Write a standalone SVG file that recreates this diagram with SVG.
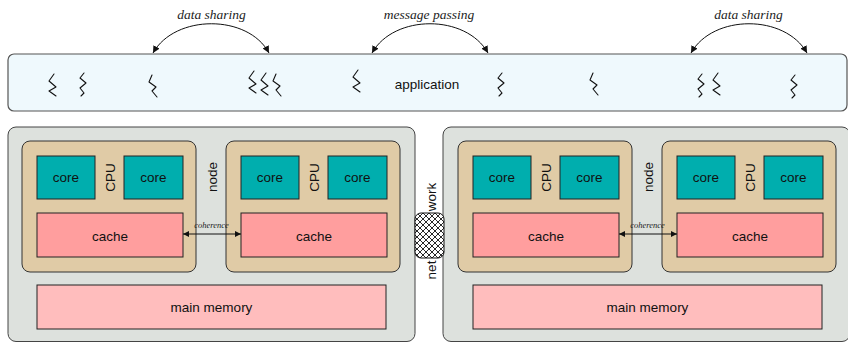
<svg xmlns="http://www.w3.org/2000/svg" width="848" height="343" viewBox="0 0 848 343">
<style>
.app{fill:#eff9fd;stroke:#555;stroke-width:1.2}
.sys{fill:#dde1dd;stroke:#444;stroke-width:1}
.cpu{fill:#e0cba6;stroke:#333;stroke-width:1}
.core{fill:#00aeae;stroke:#222;stroke-width:1}
.cache{fill:#ff9e9e;stroke:#222;stroke-width:1}
.mem{fill:#ffbdbd;stroke:#222;stroke-width:1}
.t{font-family:"Liberation Sans",Arial,sans-serif;font-size:13.5px;fill:#111;text-anchor:middle}
.it{font-family:"Liberation Serif","Times New Roman",serif;font-style:italic;fill:#222;text-anchor:middle}
.conn{fill:none;stroke:#111;stroke-width:1}
.thr{fill:none;stroke:#111;stroke-width:1.1;stroke-linejoin:round;stroke-linecap:round}
</style>
<defs>
<marker id="ah" viewBox="0 0 10 10" refX="10" refY="5" markerWidth="7" markerHeight="7" markerUnits="userSpaceOnUse" orient="auto-start-reverse">
<path d="M0,0 L10,5 L0,10 z" fill="#111"/>
</marker>
<marker id="ahs" viewBox="0 0 10 10" refX="10" refY="5" markerWidth="6" markerHeight="6" markerUnits="userSpaceOnUse" orient="auto-start-reverse">
<path d="M0,0 L10,5 L0,10 z" fill="#111"/>
</marker>
<pattern id="hatch" width="6" height="6" patternUnits="userSpaceOnUse">
<rect width="6" height="6" fill="#fff"/>
<path d="M0,0 L6,6 M6,0 L0,6" stroke="#111" stroke-width="0.9"/>
</pattern>
<path id="s1" class="thr" d="M2,0 L-3,7 L4,13 L-3,17 L4,22"/>
<path id="s2" class="thr" d="M1,0 L-3,5 L3,10 L-3,15 L1,20 L-2,23"/>
<path id="s3" class="thr" d="M-1,0 L-4,7 L3,12 L-1,16 L4,22"/>
</defs>

<g id="application">
<rect class="app" x="8" y="54" width="839" height="57" rx="6"/>
<text class="t" x="427" y="89">application</text>
<use href="#s1" x="52" y="74"/>
<use href="#s2" x="83" y="73"/>
<use href="#s3" x="153" y="75"/>
<use href="#s1" x="252" y="71"/>
<use href="#s1" x="264" y="73"/>
<use href="#s3" x="277" y="74"/>
<use href="#s1" x="356" y="70"/>
<use href="#s2" x="501" y="73"/>
<use href="#s3" x="594" y="73"/>
<use href="#s2" x="701" y="74"/>
<use href="#s1" x="716" y="73"/>
<use href="#s2" x="794" y="75"/>
</g>

<g id="system-left">
<rect class="sys" x="8" y="127" width="407" height="214.5" rx="8"/>
<text class="t" transform="translate(217,177) rotate(-90)">node</text>
<g id="cpu-left-1">
<rect class="cpu" x="22" y="141" width="174" height="131" rx="8"/>
<rect class="core" x="37" y="156" width="58" height="43"/>
<text class="t" x="66" y="182">core</text>
<rect class="core" x="124" y="156" width="59" height="43"/>
<text class="t" x="153.5" y="182">core</text>
<text class="t" transform="translate(114.5,177.5) rotate(-90)">CPU</text>
<rect class="cache" x="37" y="213" width="146" height="44"/>
<text class="t" x="110" y="241">cache</text>
</g>
<g id="cpu-left-2">
<rect class="cpu" x="226" y="141" width="174" height="131" rx="8"/>
<rect class="core" x="241" y="156" width="58" height="43"/>
<text class="t" x="270" y="182">core</text>
<rect class="core" x="328" y="156" width="59" height="43"/>
<text class="t" x="357.5" y="182">core</text>
<text class="t" transform="translate(318.5,177.5) rotate(-90)">CPU</text>
<rect class="cache" x="241" y="213" width="146" height="44"/>
<text class="t" x="314" y="241">cache</text>
</g>
<rect class="mem" x="37" y="285" width="349" height="44"/>
<text class="t" x="211.5" y="312">main memory</text>
</g>

<g id="system-right">
<rect class="sys" x="443" y="127" width="407" height="214.5" rx="8"/>
<text class="t" transform="translate(653,177) rotate(-90)">node</text>
<g id="cpu-right-1">
<rect class="cpu" x="458" y="141" width="174" height="131" rx="8"/>
<rect class="core" x="473" y="156" width="58" height="43"/>
<text class="t" x="502" y="182">core</text>
<rect class="core" x="560" y="156" width="59" height="43"/>
<text class="t" x="589.5" y="182">core</text>
<text class="t" transform="translate(550.5,177.5) rotate(-90)">CPU</text>
<rect class="cache" x="473" y="213" width="146" height="44"/>
<text class="t" x="546" y="241">cache</text>
</g>
<g id="cpu-right-2">
<rect class="cpu" x="662" y="141" width="174" height="131" rx="8"/>
<rect class="core" x="677" y="156" width="58" height="43"/>
<text class="t" x="706" y="182">core</text>
<rect class="core" x="764" y="156" width="59" height="43"/>
<text class="t" x="793.5" y="182">core</text>
<text class="t" transform="translate(754.5,177.5) rotate(-90)">CPU</text>
<rect class="cache" x="677" y="213" width="146" height="44"/>
<text class="t" x="750" y="241">cache</text>
</g>
<rect class="mem" x="473" y="285" width="349" height="44"/>
<text class="t" x="647.5" y="312">main memory</text>
</g>

<g id="network">
<rect x="415" y="213" width="29" height="45" rx="6" fill="url(#hatch)" stroke="#111" stroke-width="1"/>
<text class="t" transform="translate(435.5,197) rotate(-90)">work</text>
<text class="t" transform="translate(435.5,270) rotate(-90)">net</text>
</g>

<g id="connectors">
<path class="conn" d="M153,53 C175,14 248,14 269,53" marker-start="url(#ah)" marker-end="url(#ah)"/>
<path class="conn" d="M372,53 C394,14 466,14 488,53" marker-start="url(#ah)" marker-end="url(#ah)"/>
<path class="conn" d="M691,53 C713,14 785,14 807,53" marker-start="url(#ah)" marker-end="url(#ah)"/>
<line class="conn" x1="183" y1="234" x2="241" y2="234" marker-start="url(#ahs)" marker-end="url(#ahs)"/>
<line class="conn" x1="619" y1="234" x2="677" y2="234" marker-start="url(#ahs)" marker-end="url(#ahs)"/>
</g>

<g id="labels">
<text class="it" x="211.5" y="19" font-size="13.5">data sharing</text>
<text class="it" x="429" y="19" font-size="13.5">message passing</text>
<text class="it" x="748.5" y="19" font-size="13.5">data sharing</text>
<text class="it" x="211.5" y="228" font-size="8.5">coherence</text>
<text class="it" x="647.5" y="228" font-size="8.5">coherence</text>
</g>
</svg>
